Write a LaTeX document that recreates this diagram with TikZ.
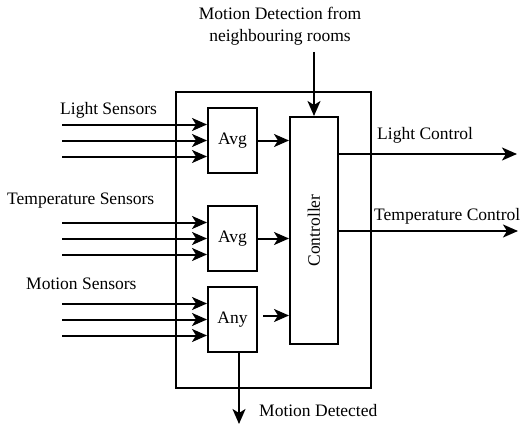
\documentclass[tikz,border=0pt]{standalone}
\usepackage{fontspec}
\setmainfont{Liberation Serif}
\usetikzlibrary{arrows.meta, positioning, calc}
\tikzset{
	block/.style={rectangle, draw, line width=2pt, minimum width=49pt, minimum height=65pt, inner sep=0pt},
	ctrlblock/.style={block, minimum width=48pt, minimum height=227pt},
	sysbox/.style={block, minimum width=195pt, minimum height=296pt},
	txt/.style={inner sep=0pt, anchor=base west},
	line/.style={draw, line width=2pt, -{Stealth[length=15pt, width=13pt, inset=4pt]}}
}
\begin{document}
\begin{tikzpicture}[x=1pt, y=-1pt, font=\fontsize{17.5}{22}\selectfont]
	\useasboundingbox (0,0) rectangle (524,428);
	% System boundary
	\node[sysbox] (sys) at (273.5,240) {};
	
	% Blocks
	\node[block] (avgL) at (232.5,140.5) {Avg};
	\node[block] (avgT) at (232.5,238.5) {Avg};
	\node[block] (any) at (232.5,319.5) {Any};
	\node[ctrlblock] (ctrl) at (314,230.5) {\rotatebox{90}{Controller}};
	
	% Sensor inputs
	\foreach \b/\y in {avgL/140.5, avgT/238.5, any/319.5}
	\foreach \d in {-16,0,16} {
		\coordinate (in-\b\d) at (62,\y+\d);
		\draw[line] (in-\b\d) -- (\b.west |- in-\b\d);
	}
	\node[txt] (lsens) at (60,114.3) {Light Sensors};
	\node[txt] (tsens) at (7,204) {Temperature Sensors};
	\node[txt] (msens) at (26,289) {Motion Sensors};
	
	% Blocks to controller
	\draw[line] (avgL.east) -- (avgL.east -| ctrl.west);
	\draw[line] (avgT.east) -- (avgT.east -| ctrl.west);
	\draw[line] ($(any.east)+(5,-4)$) -- ($(any.east -| ctrl.west)+(0,-4)$);
	
	% Neighbouring rooms
	\node[inner sep=0pt, anchor=north, align=center] (nbrtxt) at (280,7) {Motion Detection from\\neighbouring rooms};
	\coordinate (nbr) at (314,52);
	\draw[line] (nbr) -- (nbr |- ctrl.north);
	
	% Outputs
	\coordinate (lc) at (517,154);
	\coordinate (tc) at (518,231);
	\coordinate (md) at (239,424);
	\draw[line] (ctrl.east |- lc) -- (lc);
	\draw[line] (ctrl.east |- tc) -- (tc);
	\draw[line] (md |- any.south) -- (md);
	\node[txt] (lctl) at (377,139) {Light Control};
	\node[txt] (tctl) at (374,220) {Temperature Control};
	\node[txt] (mdet) at (259,416) {Motion Detected};
\end{tikzpicture}
\end{document}
